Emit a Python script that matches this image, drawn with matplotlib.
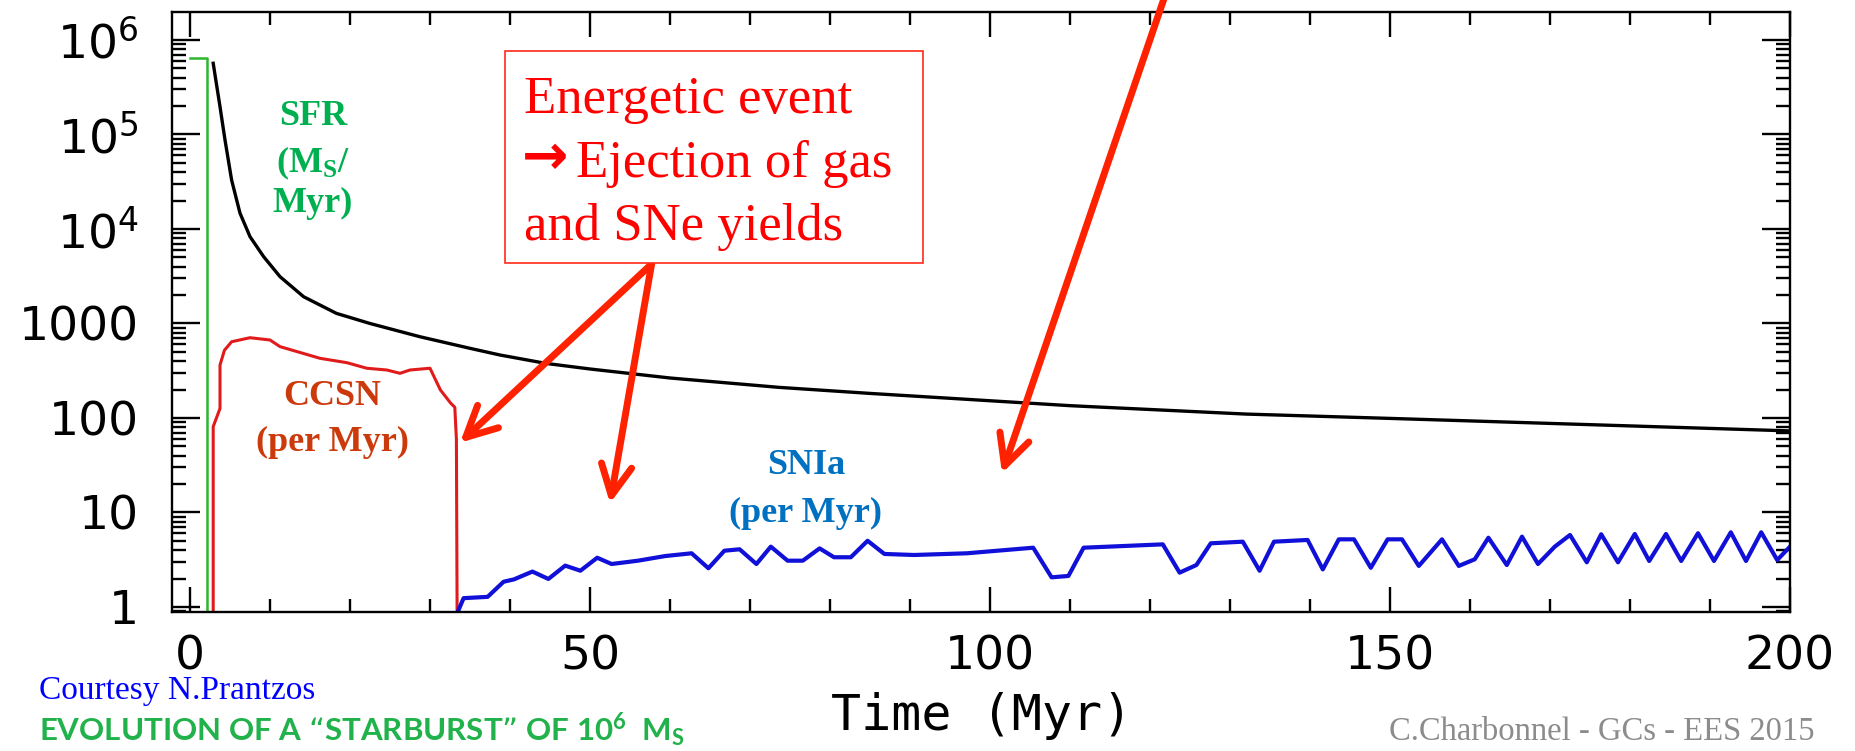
import matplotlib

matplotlib.use("Agg")
import matplotlib.pyplot as plt  # noqa: E402
from matplotlib.patches import Rectangle  # noqa: E402
from matplotlib.ticker import LogLocator, MultipleLocator, NullFormatter  # noqa: E402

plt.rcParams["mathtext.default"] = "regular"

# star formation rate step (Msun/Myr)
sfr_t = [0.0, 2.1, 2.1]
sfr_v = [6.4e5, 6.4e5, 0.5]

# black curve
tot_t = [2.9, 3.75, 4.38, 5.2, 6.25, 7.5, 9.2, 11.25, 14.2, 18.3, 22.5, 28.75, 35.0,
         38.75, 44.5, 50.0, 60.0, 73.6, 85.0, 94.8, 110.0, 132.0, 150.0, 175.0,
         200.0]
tot_v = [5.67e5, 1.97e5, 8.7e4, 3.3e4, 1.47e4, 8.3e3, 5.1e3, 3.13e3, 1.92e3, 1.28e3,
         1.0e3, 724, 546, 464, 378, 330, 265, 211, 182, 162, 135, 110, 99, 85, 73]

# core-collapse SN rate (per Myr)
ccsn_t = [2.9, 2.9, 3.75, 3.75, 4.3, 5.2, 7.5, 10.0, 11.25, 16.25, 19.6, 22.1, 24.6,
          26.25, 27.5, 30.0, 31.3, 32.6, 33.1, 33.3, 33.4]
ccsn_v = [0.5, 81, 126, 363, 520, 641, 707, 669, 569, 428, 385, 336, 322, 297, 322,
          336, 198, 143, 130, 60, 0.5]

# SN Ia rate (per Myr)
snia_t = [33.5, 34.2, 37.2, 39.2, 40.5, 42.8, 44.8, 46.9, 48.8, 50.9, 52.7, 56.0,
          59.4, 62.7, 64.8, 66.8, 68.7, 70.8, 72.6, 74.7, 76.6, 78.7, 80.5, 82.6,
          84.7, 86.8, 90.5, 97.1, 105.4, 107.7, 109.8, 111.7, 121.6, 123.7, 125.8,
          127.6, 131.6, 133.7, 135.5, 139.7, 141.6, 143.6, 145.5, 147.6, 149.7,
          151.5, 153.6, 156.5, 158.6, 160.6, 162.3, 164.6, 166.5, 168.5, 170.6,
          172.5, 174.6, 176.4, 178.5, 180.6, 182.4, 184.5, 186.4, 188.5, 190.5,
          192.6, 194.5, 196.4, 198.4, 200.0]
snia_v = [0.9, 1.24, 1.28, 1.85, 1.96, 2.37, 1.98, 2.74, 2.42, 3.32, 2.85, 3.09,
          3.46, 3.7, 2.57, 3.94, 4.08, 2.85, 4.35, 3.09, 3.09, 4.17, 3.36, 3.36,
          5.02, 3.64, 3.55, 3.7, 4.24, 2.06, 2.13, 4.24, 4.6, 2.31, 2.78, 4.72,
          4.91, 2.42, 4.91, 5.12, 2.5, 5.2, 5.2, 2.6, 5.2, 5.2, 2.72, 5.2, 2.72,
          3.2, 5.41, 2.78, 5.55, 2.85, 4.35, 5.78, 2.97, 5.88, 2.97, 5.92, 3.07,
          5.92, 3.07, 6.03, 3.07, 6.17, 3.07, 6.17, 3.14, 4.35]

ytick_vals = [1, 10, 100, 1000, 1e4, 1e5, 1e6]
ytick_labels = ["1", "10", "100", "1000", r"$10^{4}$", r"$10^{5}$", r"$10^{6}$"]
xtick_vals = [0, 50, 100, 150, 200]

W, H = 1856, 751


def fx(px):
    return px / W


def fy(py):
    return 1 - py / H


fig = plt.figure(figsize=(W / 100, H / 100), dpi=100)
ax = fig.add_axes([fx(172), fy(612), (1790 - 172) / W, (612 - 12) / H])

ax.plot(sfr_t, sfr_v, color="#2db52d", lw=1.8)
ax.plot(ccsn_t, ccsn_v, color="#e01b1b", lw=2.2)
ax.plot(tot_t, tot_v, color="black", lw=2.4)
ax.plot(snia_t, snia_v, color="#1010d8", lw=3)

ax.set_yscale("log")
ax.set_xlim(-2.25, 200)
ax.set_ylim(0.885, 1.978e6)
ax.set_yticks(ytick_vals, ytick_labels)
ax.yaxis.set_minor_locator(LogLocator(base=10, subs=range(2, 10), numticks=20))
ax.yaxis.set_minor_formatter(NullFormatter())
ax.set_xticks(xtick_vals)
ax.xaxis.set_minor_locator(MultipleLocator(10))
ax.tick_params(which="both", direction="in", top=True, right=True, width=1.7)
ax.tick_params(axis="y", which="major", length=20, pad=24, labelsize=34)
ax.tick_params(axis="y", which="minor", length=10)
ax.tick_params(axis="x", which="major", length=18, pad=16, labelsize=34)
ax.tick_params(axis="x", which="minor", length=9.5)
for s in ax.spines.values():
    s.set_linewidth(1.7)

fig.text(fx(982), fy(716), "Time (Myr)", ha="center", va="center",
         fontsize=36, family="DejaVu Sans Mono")

# curve labels
serif_bold = dict(family="Liberation Serif", fontweight="bold", fontsize=26,
                  ha="center", va="baseline")
for txt, y in [("SFR", 125), ("(M$_{S}$/", 172), ("Myr)", 212)]:
    fig.text(fx(313), fy(y), txt, color="#00b050", **serif_bold)
for txt, y in [("CCSN", 405), ("(per Myr)", 451)]:
    fig.text(fx(332), fy(y), txt, color="#cc3a0c", **serif_bold)
for txt, y in [("SNIa", 474), ("(per Myr)", 522)]:
    fig.text(fx(806), fy(y), txt, color="#0070c0", **serif_bold)

# callout box
fig.add_artist(Rectangle((fx(505), fy(263)), 418 / W, 212 / H,
                         transform=fig.transFigure, facecolor="white",
                         edgecolor="#ff2a1a", lw=1.2))
box_font = dict(color="#ff0000", fontsize=38, va="baseline", family="Liberation Serif")
fig.text(fx(524), fy(113), "Energetic event", **box_font)
fig.text(fx(522), fy(174), "\u2192", color="#ff0000", fontsize=40, va="baseline",
         family="DejaVu Sans", fontweight="bold")
fig.text(fx(576), fy(177), "Ejection of gas", **box_font)
fig.text(fx(524), fy(240), "and SNe yields", **box_font)

arrow_kw = dict(arrowstyle="->,head_length=1.1,head_width=0.55", color="#ff2200",
                lw=5, mutation_scale=20, shrinkA=0, shrinkB=0,
                capstyle="round", joinstyle="round")
box_foot = (57.7, 4.26e3)
for tip in [(33.75, 54.8), (52.5, 12.5)]:
    ax.annotate("", xy=tip, xytext=box_foot, arrowprops=arrow_kw,
                annotation_clip=False, zorder=5)
ax.annotate("", xy=(101.5, 26.0), xytext=(122.2, 3.55e6), arrowprops=arrow_kw,
            annotation_clip=False, zorder=5)

# footer text
fig.text(fx(39), fy(699), "Courtesy N.Prantzos", color="#0000ff", fontsize=24,
         family="Liberation Serif", va="baseline")
fig.text(fx(39), fy(741), "EVOLUTION OF A \u201cSTARBURST\u201d OF 10$^{6}$  M$_{S}$",
         color="#21b24b", fontsize=22.5, fontweight="bold", family="Lato",
         va="baseline")
fig.text(fx(1815), fy(740), "C.Charbonnel - GCs - EES 2015", color="#8c8c8c",
         fontsize=23.5, family="Liberation Serif", ha="right", va="baseline")

fig.savefig("out.png", dpi=100)
